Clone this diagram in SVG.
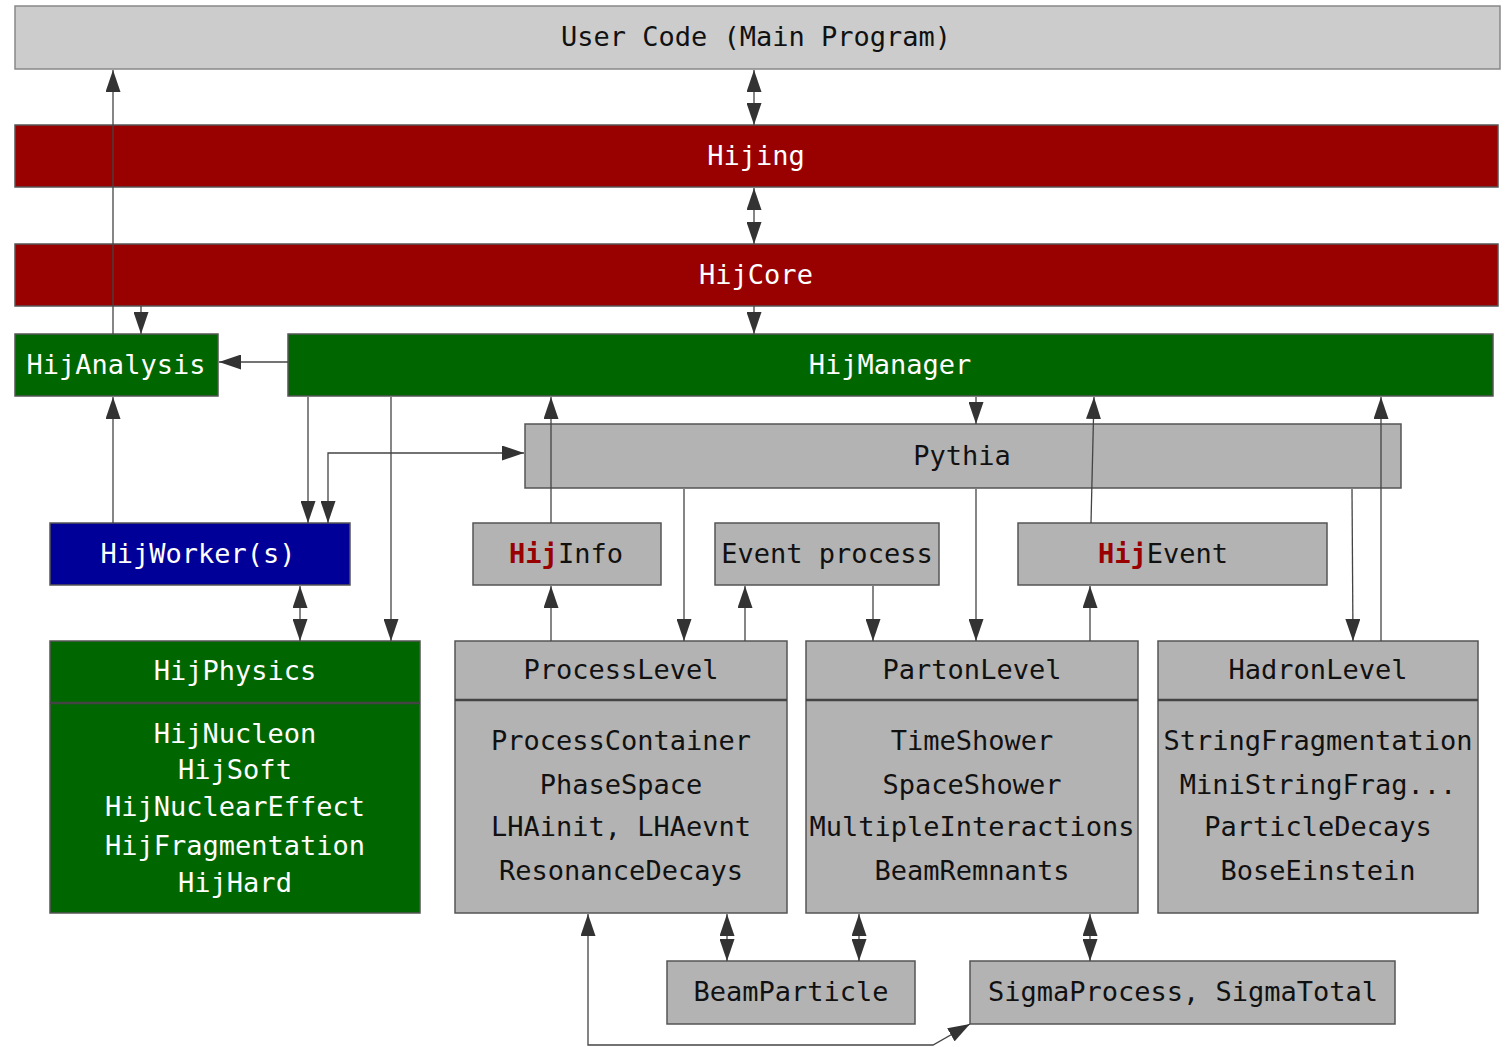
<svg xmlns="http://www.w3.org/2000/svg" width="1511" height="1047" viewBox="0 0 1511 1047">
<style>
text{font-family:"DejaVu Sans Mono","Liberation Mono",monospace;font-size:27px;text-anchor:middle}
.dk{fill:#111}
.wt{fill:#fff}
.red{fill:#990000}
.grn{fill:#006600}
.blu{fill:#000099}
.gry{fill:#b3b3b3}
.box{stroke:#555;stroke-width:1.5}
.div{stroke:#444;stroke-width:2.5}
.hij{fill:#990000;font-weight:bold}
.c{fill:none;stroke:#444;stroke-width:1.3}
.a{marker-end:url(#ah)}
.b{marker-start:url(#ah);marker-end:url(#ah)}
</style>
<defs>
<marker id="ah" markerUnits="userSpaceOnUse" markerWidth="22" markerHeight="15" refX="22" refY="7.5" orient="auto-start-reverse" viewBox="0 0 22 15">
<path d="M0,0 L22,7.5 L0,15 z" fill="#333"/>
</marker>
</defs>
<rect width="1511" height="1047" fill="#fff"/>

<g id="usercode">
<rect x="15" y="6" width="1485" height="63" fill="#cccccc" stroke="#888" stroke-width="1.5"/>
<text x="756" y="46" class="dk">User Code (Main Program)</text>
</g>
<g id="hijing">
<rect x="15" y="125" width="1483" height="62" class="red box"/>
<text x="756" y="165" class="wt">Hijing</text>
</g>
<g id="hijcore">
<rect x="15" y="244" width="1483" height="62" class="red box"/>
<text x="756" y="284" class="wt">HijCore</text>
</g>
<g id="hijanalysis">
<rect x="15" y="334" width="203" height="62" class="grn box"/>
<text x="116" y="374" class="wt">HijAnalysis</text>
</g>
<g id="hijmanager">
<rect x="288" y="334" width="1205" height="62" class="grn box"/>
<text x="890" y="374" class="wt">HijManager</text>
</g>
<g id="pythia">
<rect x="525" y="424" width="876" height="64" class="gry box"/>
<text x="962" y="465" class="dk">Pythia</text>
</g>
<g id="hijworker">
<rect x="50" y="523" width="300" height="62" class="blu box"/>
<text x="198" y="563" class="wt">HijWorker(s)</text>
</g>
<g id="hijinfo">
<rect x="473" y="523" width="188" height="62" class="gry box"/>
<text x="566" y="563" class="dk"><tspan class="hij">Hij</tspan>Info</text>
</g>
<g id="eventprocess">
<rect x="715" y="523" width="224" height="62" class="gry box"/>
<text x="827" y="563" class="dk">Event process</text>
</g>
<g id="hijevent">
<rect x="1018" y="523" width="309" height="62" class="gry box"/>
<text x="1163" y="563" class="dk"><tspan class="hij">Hij</tspan>Event</text>
</g>
<g id="hijphysics">
<rect x="50" y="641" width="370" height="272" class="grn box"/>
<line x1="50" y1="703" x2="420" y2="703" class="div"/>
<text x="235" y="680" class="wt">HijPhysics</text>
<text x="235" y="743" class="wt">HijNucleon</text>
<text x="235" y="779" class="wt">HijSoft</text>
<text x="235" y="816" class="wt">HijNuclearEffect</text>
<text x="235" y="855" class="wt">HijFragmentation</text>
<text x="235" y="892" class="wt">HijHard</text>
</g>
<g id="processlevel">
<rect x="455" y="641" width="332" height="272" class="gry box"/>
<line x1="455" y1="700" x2="787" y2="700" class="div"/>
<text x="621" y="679" class="dk">ProcessLevel</text>
<text x="621" y="750" class="dk">ProcessContainer</text>
<text x="621" y="794" class="dk">PhaseSpace</text>
<text x="621" y="836" class="dk">LHAinit, LHAevnt</text>
<text x="621" y="880" class="dk">ResonanceDecays</text>
</g>
<g id="partonlevel">
<rect x="806" y="641" width="332" height="272" class="gry box"/>
<line x1="806" y1="700" x2="1138" y2="700" class="div"/>
<text x="972" y="679" class="dk">PartonLevel</text>
<text x="972" y="750" class="dk">TimeShower</text>
<text x="972" y="794" class="dk">SpaceShower</text>
<text x="972" y="836" class="dk">MultipleInteractions</text>
<text x="972" y="880" class="dk">BeamRemnants</text>
</g>
<g id="hadronlevel">
<rect x="1158" y="641" width="320" height="272" class="gry box"/>
<line x1="1158" y1="700" x2="1478" y2="700" class="div"/>
<text x="1318" y="679" class="dk">HadronLevel</text>
<text x="1318" y="750" class="dk">StringFragmentation</text>
<text x="1318" y="794" class="dk">MiniStringFrag...</text>
<text x="1318" y="836" class="dk">ParticleDecays</text>
<text x="1318" y="880" class="dk">BoseEinstein</text>
</g>
<g id="beamparticle">
<rect x="667" y="961" width="248" height="63" class="gry box"/>
<text x="791" y="1001" class="dk">BeamParticle</text>
</g>
<g id="sigma">
<rect x="970" y="961" width="425" height="63" class="gry box"/>
<text x="1183" y="1001" class="dk">SigmaProcess, SigmaTotal</text>
</g>

<g id="connectors">
<path class="c b" d="M754,70 V125"/>
<path class="c b" d="M754,188 V244"/>
<path class="c a" d="M754,306 V334"/>
<path class="c a" d="M113,334 V70"/>
<path class="c a" d="M141,306 V334"/>
<path class="c a" d="M288,362 H219"/>
<path class="c a" d="M113,523 V397"/>
<path class="c a" d="M308,397 V523"/>
<path class="c b" d="M328,523 V453 H524"/>
<path class="c a" d="M391,397 V641"/>
<path class="c b" d="M300,586 V641"/>
<path class="c a" d="M551,523 V397"/>
<path class="c a" d="M551,641 V586"/>
<path class="c a" d="M684,489 V641"/>
<path class="c a" d="M745,641 V586"/>
<path class="c a" d="M873,586 V641"/>
<path class="c a" d="M976,397 V424"/>
<path class="c a" d="M976,489 V641"/>
<path class="c a" d="M1091,523 L1094,397"/>
<path class="c a" d="M1090,641 V586"/>
<path class="c a" d="M1352,489 L1353,641"/>
<path class="c a" d="M1381,641 V397"/>
<path class="c b" d="M727,914 V961"/>
<path class="c b" d="M859,914 V961"/>
<path class="c b" d="M1090,914 V961"/>
<path class="c b" d="M970,1024 L933,1045 H588 V914"/>
</g>
</svg>
